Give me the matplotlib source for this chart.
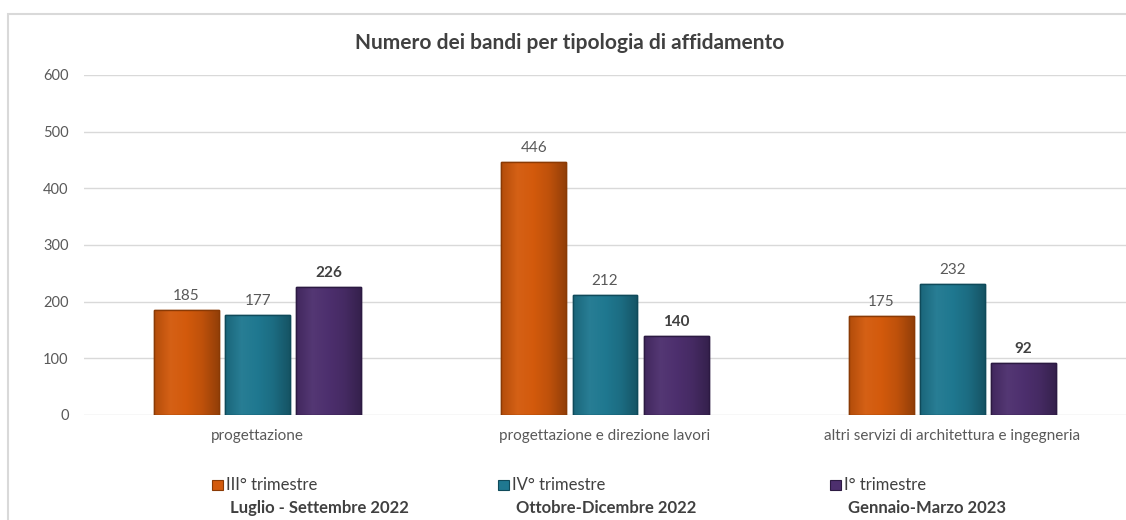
import matplotlib.pyplot as plt
import numpy as np
from matplotlib.patches import Rectangle
from matplotlib.colors import LinearSegmentedColormap, to_rgb

# data
categories = ['progettazione', 'progettazione e direzione lavori',
              'altri servizi di architettura e ingegneria']
series_names = ['III° trimestre', 'IV° trimestre', 'I° trimestre']
series_periods = ['Luglio - Settembre 2022', 'Ottobre-Dicembre 2022', 'Gennaio-Marzo 2023']
q3_2022 = [185, 446, 175]
q4_2022 = [177, 212, 232]
q1_2023 = [226, 140, 92]
y_ticks = [0, 100, 200, 300, 400, 500, 600]

plt.rcParams['font.family'] = ['Lato', 'DejaVu Sans']

colors = ['#d35a0c', '#1f7890', '#4d2f6e']
edges = ['#8a3a05', '#0f4a5a', '#2c1a42']
label_colors = ['#595959', '#595959', '#404040']
label_weights = ['normal', 'normal', 'bold']


def shade(c, f):
    r = np.array(to_rgb(c))
    if f > 1:
        return tuple(r + (1 - r) * (f - 1))
    return tuple(r * f)


fig = plt.figure(figsize=(11.26, 5.2), dpi=100)
ax = fig.add_axes([84 / 1126, 105 / 520, 1042 / 1126, 340 / 520])

# chart frame
fig.patches.append(Rectangle((8 / 1126, -0.1), 1.2, (520 - 14) / 520 + 0.1,
                             transform=fig.transFigure, fill=False,
                             edgecolor='#d9d9d9', linewidth=1.5))

x = np.arange(len(categories))
width = 0.187
step = 0.205
all_series = [q3_2022, q4_2022, q1_2023]

for i, vals in enumerate(all_series):
    pos = x + (i - 1) * step
    bars = ax.bar(pos, vals, width=width, color=colors[i], edgecolor=edges[i],
                  linewidth=1.0, zorder=3)
    # soft bevel look: horizontal gradient clipped to each bar
    cmap = LinearSegmentedColormap.from_list(
        'b%d' % i, [shade(colors[i], 0.85), shade(colors[i], 1.04), colors[i],
                    shade(colors[i], 0.9), shade(colors[i], 0.7)])
    grad = np.linspace(0, 1, 64).reshape(1, -1)
    for b in bars:
        bx, by = b.get_x(), b.get_y()
        im = ax.imshow(grad, cmap=cmap, aspect='auto', zorder=3.5,
                       extent=(bx, bx + b.get_width(), by, by + b.get_height()))
        im.set_clip_path(b)
        ax.add_patch(Rectangle((bx, by), b.get_width(), b.get_height(), fill=False,
                               edgecolor=edges[i], linewidth=1.0, zorder=4))
    ax.bar_label(bars, labels=[str(v) for v in vals], padding=5,
                 fontsize=11, color=label_colors[i], fontweight=label_weights[i])

ax.set_xlim(-0.5, 2.5)
ax.set_ylim(0, 600)
ax.set_yticks(y_ticks)
ax.set_xticks(x)
ax.set_xticklabels(categories, fontsize=11, color='#595959')
ax.tick_params(axis='y', length=0, pad=11, labelsize=10.5, labelcolor='#595959')
ax.tick_params(axis='x', length=0, pad=10)
ax.grid(axis='y', color='#d9d9d9', linewidth=1, zorder=0)
for s in ax.spines.values():
    s.set_visible(False)

fig.text(570 / 1126, 1 - 43 / 520, 'Numero dei bandi per tipologia di affidamento',
         ha='center', va='center', fontsize=15, fontweight='bold', color='#404040')

# legend, drawn by hand to get the two-line layout
legend_x = [212, 498, 830]
for i in range(3):
    lx = legend_x[i] / 1126
    fig.patches.append(Rectangle((lx, 1 - 490 / 520), 11 / 1126, 10 / 520,
                                 transform=fig.transFigure, facecolor=colors[i],
                                 edgecolor=edges[i], linewidth=0.8))
    fig.text(lx + 14 / 1126, 1 - 485 / 520, series_names[i], ha='left', va='center',
             fontsize=12, color='#404040')
    fig.text(lx + 18 / 1126, 1 - 508 / 520, series_periods[i], ha='left', va='center',
             fontsize=12, fontweight='bold', color='#404040')

fig.savefig('out.png', dpi=100)
